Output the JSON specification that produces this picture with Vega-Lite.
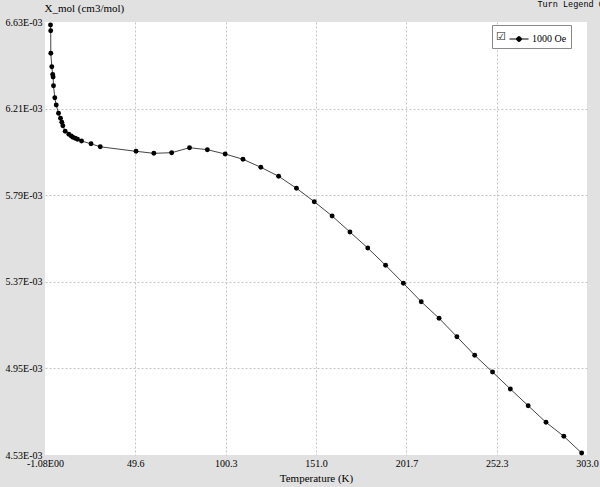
{
  "$schema": "https://vega.github.io/schema/vega-lite/v6.json",
  "width": 542,
  "height": 433,
  "autosize": {"type": "none"},
  "padding": {"left": 45, "top": 22, "right": 13, "bottom": 32},
  "background": "#e1e1e1",
  "view": {"fill": "white", "stroke": null},
  "title": {
    "text": "Turn Legend Off",
    "anchor": "end",
    "frame": "group",
    "font": "Liberation Mono",
    "fontSize": 8.5,
    "fontWeight": "normal",
    "color": "#000000",
    "dx": 27,
    "offset": -15,
    "baseline": "bottom"
  },
  "config": {
    "font": "Liberation Serif, Times New Roman, serif",
    "axis": {
      "labelFont": "Liberation Serif, Times New Roman, serif",
      "titleFont": "Liberation Serif, Times New Roman, serif",
      "labelFontSize": 10,
      "titleFontSize": 11,
      "titleFontWeight": "normal",
      "labelColor": "#000000",
      "titleColor": "#000000",
      "domain": false,
      "ticks": false,
      "gridColor": "#c4c4c4",
      "gridDash": [2, 2],
      "gridWidth": 1,
      "labelOverlap": false,
      "labelBound": false,
      "labelFlush": false
    }
  },
  "data": {
    "values": [
      {"T": 2.01, "chi": 0.0066155, "series": "1000 Oe"},
      {"T": 2.12, "chi": 0.0065878, "series": "1000 Oe"},
      {"T": 2.18, "chi": 0.0064782, "series": "1000 Oe"},
      {"T": 2.74, "chi": 0.0064132, "series": "1000 Oe"},
      {"T": 3.24, "chi": 0.0063754, "series": "1000 Oe"},
      {"T": 3.47, "chi": 0.0063633, "series": "1000 Oe"},
      {"T": 3.69, "chi": 0.0063211, "series": "1000 Oe"},
      {"T": 4.42, "chi": 0.0062629, "series": "1000 Oe"},
      {"T": 5.21, "chi": 0.0062275, "series": "1000 Oe"},
      {"T": 6.50, "chi": 0.0061872, "series": "1000 Oe"},
      {"T": 7.62, "chi": 0.0061630, "series": "1000 Oe"},
      {"T": 8.36, "chi": 0.0061436, "series": "1000 Oe"},
      {"T": 8.92, "chi": 0.0061271, "series": "1000 Oe"},
      {"T": 10.26, "chi": 0.0060999, "series": "1000 Oe"},
      {"T": 12.29, "chi": 0.0060853, "series": "1000 Oe"},
      {"T": 13.63, "chi": 0.0060771, "series": "1000 Oe"},
      {"T": 14.53, "chi": 0.0060708, "series": "1000 Oe"},
      {"T": 15.88, "chi": 0.0060660, "series": "1000 Oe"},
      {"T": 17.17, "chi": 0.0060611, "series": "1000 Oe"},
      {"T": 19.42, "chi": 0.0060529, "series": "1000 Oe"},
      {"T": 24.75, "chi": 0.0060393, "series": "1000 Oe"},
      {"T": 29.92, "chi": 0.0060247, "series": "1000 Oe"},
      {"T": 50, "chi": 0.0060029, "series": "1000 Oe"},
      {"T": 60, "chi": 0.0059932, "series": "1000 Oe"},
      {"T": 70, "chi": 0.0059961, "series": "1000 Oe"},
      {"T": 80, "chi": 0.0060204, "series": "1000 Oe"},
      {"T": 90, "chi": 0.0060107, "series": "1000 Oe"},
      {"T": 100, "chi": 0.0059898, "series": "1000 Oe"},
      {"T": 110, "chi": 0.0059641, "series": "1000 Oe"},
      {"T": 120, "chi": 0.0059253, "series": "1000 Oe"},
      {"T": 130, "chi": 0.0058817, "series": "1000 Oe"},
      {"T": 140, "chi": 0.0058235, "series": "1000 Oe"},
      {"T": 150, "chi": 0.0057585, "series": "1000 Oe"},
      {"T": 160, "chi": 0.0056891, "series": "1000 Oe"},
      {"T": 170, "chi": 0.0056115, "series": "1000 Oe"},
      {"T": 180, "chi": 0.0055339, "series": "1000 Oe"},
      {"T": 190, "chi": 0.0054500, "series": "1000 Oe"},
      {"T": 200, "chi": 0.0053627, "series": "1000 Oe"},
      {"T": 210, "chi": 0.0052735, "series": "1000 Oe"},
      {"T": 220, "chi": 0.0051930, "series": "1000 Oe"},
      {"T": 230, "chi": 0.0051038, "series": "1000 Oe"},
      {"T": 240, "chi": 0.0050135, "series": "1000 Oe"},
      {"T": 250, "chi": 0.0049325, "series": "1000 Oe"},
      {"T": 260, "chi": 0.0048501, "series": "1000 Oe"},
      {"T": 270, "chi": 0.0047690, "series": "1000 Oe"},
      {"T": 280, "chi": 0.0046886, "series": "1000 Oe"},
      {"T": 290, "chi": 0.0046207, "series": "1000 Oe"},
      {"T": 300, "chi": 0.0045397, "series": "1000 Oe"}
    ]
  },
  "encoding": {
    "x": {
      "field": "T",
      "type": "quantitative",
      "scale": {"domain": [-1.08, 303.0], "nice": false, "zero": false},
      "axis": {
        "title": "Temperature (K)",
        "values": [-1.08, 49.6, 100.3, 151.0, 201.7, 252.3, 303.0],
        "labelExpr": "datum.value < 0 ? '-1.08E00' : format(datum.value, '.1f')",
        "labelPadding": 3,
        "titlePadding": 4,
        "gridOpacity": {"condition": {"test": "datum.value < 0 || datum.value > 300", "value": 0}, "value": 1}
      }
    },
    "y": {
      "field": "chi",
      "type": "quantitative",
      "scale": {"domain": [0.00453, 0.00663], "nice": false, "zero": false},
      "axis": {
        "title": "X_mol (cm3/mol)",
        "values": [0.00453, 0.00495, 0.00537, 0.00579, 0.00621, 0.00663],
        "labelExpr": "format(datum.value * 1000, '.2f') + 'E-03'",
        "labelPadding": 3,
        "titleAngle": 0,
        "titleAlign": "left",
        "titleBaseline": "alphabetic",
        "titleX": -1,
        "titleY": -10.5,
        "gridOpacity": {"condition": {"test": "datum.value < 0.0046 || datum.value > 0.0066", "value": 0}, "value": 1}
      }
    }
  },
  "layer": [
    {
      "mark": {"type": "line", "color": "#444444", "strokeWidth": 1}
    },
    {
      "mark": {"type": "point", "filled": true, "shape": "circle", "size": 24, "opacity": 1},
      "encoding": {
        "color": {
          "field": "series",
          "type": "nominal",
          "scale": {"range": ["#000000"]},
          "legend": {
            "title": "☑",
            "titleOrient": "left",
            "titleFont": "DejaVu Sans",
            "titleFontSize": 11,
            "titleFontWeight": "normal",
            "titleColor": "#222222",
            "titlePadding": 3,
            "orient": "none",
            "legendX": 447,
            "legendY": 3,
            "padding": 4,
            "strokeColor": "#8a8a8a",
            "fillColor": "white",
            "labelFont": "Liberation Serif, Times New Roman, serif",
            "labelFontSize": 10,
            "labelColor": "#000000",
            "labelOffset": 3,
            "symbolType": "M-1,0H1M-0.25,0A0.25,0.25,0,1,0,0.25,0A0.25,0.25,0,1,0,-0.25,0Z",
            "symbolSize": 361,
            "symbolStrokeColor": "#000000",
            "symbolFillColor": "#000000",
            "symbolStrokeWidth": 1,
            "symbolOpacity": 1
          }
        }
      }
    }
  ]
}
